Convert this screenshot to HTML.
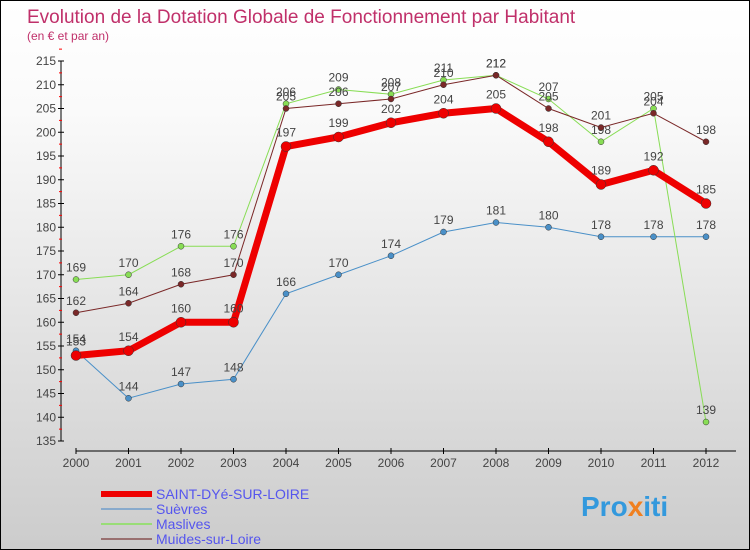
<!DOCTYPE html>
<html><head><meta charset="utf-8"><style>
body{margin:0}
#c{width:748px;height:548px;border:1px solid #000;background:linear-gradient(#fff,#fafafa 20%,#ccc);position:relative;font-family:"Liberation Sans",sans-serif}
</style></head><body>
<div id="c">
<svg id="s" width="748" height="548" xmlns="http://www.w3.org/2000/svg" style="position:absolute;left:0;top:0">
<text x="26" y="22" font-size="19" fill="#c0306a">Evolution de la Dotation Globale de Fonctionnement par Habitant</text>
<text x="26" y="39" font-size="12" fill="#c0306a">(en € et par an)</text>
<g id="axes"></g><g id="series"></g>
<g id="legend"></g>
<text x="580" y="515" font-size="28" font-weight="bold" fill="#3399dd">Pro<tspan fill="#f08020">x</tspan>iti</text>
</svg>
</div>
<script>
const years=[2000,2001,2002,2003,2004,2005,2006,2007,2008,2009,2010,2011,2012];
const yTicks=[135,140,145,150,155,160,165,170,175,180,185,190,195,200,205,210,215];
const saint=[153,154,160,160,197,199,202,204,205,198,189,192,185];
const suevres=[154,144,147,148,166,170,174,179,181,180,178,178,178];
const maslives=[169,170,176,176,206,209,208,211,212,207,198,205,139];
const muides=[162,164,168,170,205,206,207,210,212,205,201,204,198];
const NS="http://www.w3.org/2000/svg";
const X=i=>75+i*52.5;
const Y=v=>440-(v-135)*(380/80);
function mk(t,a,p){const e=document.createElementNS(NS,t);for(const k in a)e.setAttribute(k,a[k]);p.appendChild(e);return e;}
const ax=document.getElementById('axes');
let yl=mk('line',{x1:60,y1:Y(215),x2:60,y2:Y(135),stroke:'#000'},ax);


yTicks.forEach(v=>{
  mk('line',{x1:57,y1:Y(v),x2:63,y2:Y(v),stroke:'#000'},ax);
  mk('line',{x1:58,y1:Y(v+2.5),x2:61,y2:Y(v+2.5),stroke:'red'},ax);
  const t=mk('text',{x:55,y:Y(v)+4,'font-size':12,fill:'#444','text-anchor':'end'},ax);t.textContent=v;
  
  
});
let xl=mk('line',{x1:75,y1:450,x2:735,y2:450,stroke:'#000'},ax);


years.forEach((y,i)=>{
  mk('line',{x1:X(i),y1:447,x2:X(i),y2:453,stroke:'#000'},ax);
  const t=mk('text',{x:X(i),y:466,'font-size':12,fill:'#444','text-anchor':'middle'},ax);t.textContent=y;
  
  
});
const sg=document.getElementById('series');
function draw(data,col,w,r,name,lab,dy){
  const g=mk('g',{},sg);
  
  
  mk('polyline',{points:data.map((v,i)=>X(i)+','+Y(v)).join(' '),fill:'none',stroke:col,'stroke-width':w},g);
  data.forEach((v,i)=>{
    const c=mk('circle',{cx:X(i),cy:Y(v),r:r,fill:col,stroke:'#333','stroke-width':0.5},g);
    
    
    const t=mk('text',{x:X(i),y:Y(v)-dy,'font-size':12,fill:'#444','text-anchor':'middle'},g);t.textContent=v;
    
    
  });
}
draw(suevres,'#4a90c8',1,3,'series-suevres',1,8);
draw(maslives,'#88dd55',1,3,'series-maslives',1,8);
draw(muides,'#7a2828',1,3,'series-muides',1,8);
draw(saint,'#ee0000',7,5,'series-saint-dye',1,10);
const lg=document.getElementById('legend');
const L=[['SAINT-DYé-SUR-LOIRE','#ee0000',6],['Suèvres','#88aacc',2],['Maslives','#99dd77',2],['Muides-sur-Loire','#997070',2]];
L.forEach((l,i)=>{
  const y=493+i*15;
  mk('line',{x1:100,y1:y,x2:151,y2:y,stroke:l[1],'stroke-width':l[2]},lg);
  const t=mk('text',{x:155,y:y+5,'font-size':14,fill:'#5555ee'},lg);t.textContent=l[0];
  
  
});
</script>
</body></html>
